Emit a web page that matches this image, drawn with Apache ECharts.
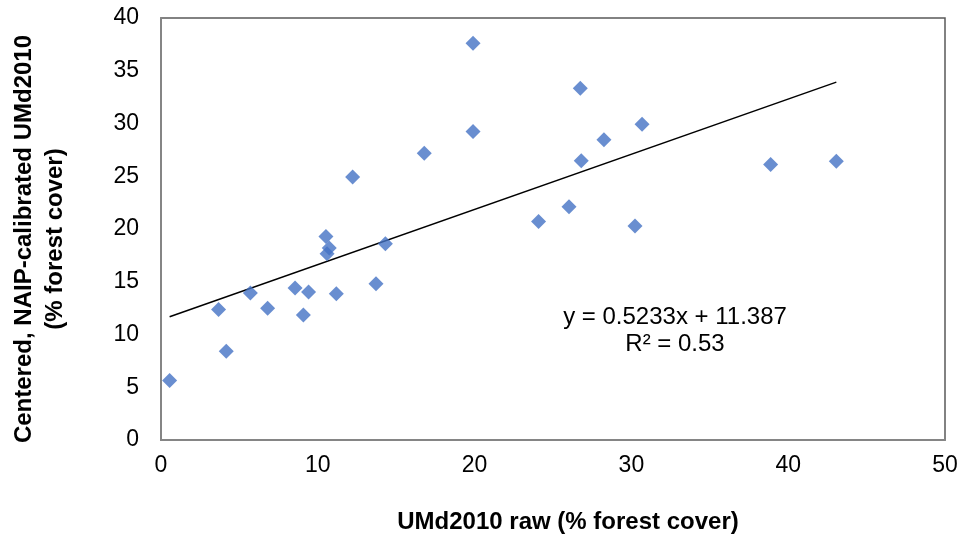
<!DOCTYPE html>
<html>
<head>
<meta charset="utf-8">
<title>UMd2010 raw vs NAIP-calibrated forest cover</title>
<script src="https://cdn.jsdelivr.net/npm/echarts@6/dist/echarts.min.js"></script>
<style>
  html, body { margin: 0; padding: 0; background: #fff; }
  #chart { width: 964px; height: 539px; }
</style>
</head>
<body>
<div id="chart"></div>
<script>
// UMd2010 raw forest cover (%) per sample unit
const rawCover = [
  0.55, 3.67, 4.16, 5.70, 6.80, 8.55, 9.08, 9.41, 10.52, 10.59,
  10.73, 11.18, 12.22, 13.71, 14.31, 16.79, 19.90, 19.90, 24.08, 26.02,
  26.74, 26.80, 28.25, 30.23, 30.68, 38.88, 43.07
];
// Centered, NAIP-calibrated UMd2010 forest cover (%) for the same units
const calibratedCover = [
  5.63, 12.36, 8.41, 13.94, 12.48, 14.41, 11.85, 14.03, 19.29, 17.66,
  18.20, 13.87, 24.92, 14.82, 18.60, 27.19, 37.60, 29.24, 20.71, 22.11,
  33.34, 26.46, 28.45, 20.28, 29.94, 26.11, 26.43
];
// Linear fit reported for the data
const fitSlope = [0.5233];
const fitIntercept = [11.387];
const fitR2 = [0.53];

const xTicks = [0, 10, 20, 30, 40, 50];
const yTicks = [0, 5, 10, 15, 20, 25, 30, 35, 40];

const points = rawCover.map((x, i) => [x, calibratedCover[i]]);
const xLo = Math.min(...rawCover);
const xHi = Math.max(...rawCover);
const fitLine = [xLo, xHi].map(x => [x, fitSlope[0] * x + fitIntercept[0]]);

const FONT = '"Liberation Sans", Arial, sans-serif';

const chart = echarts.init(document.getElementById('chart'), null, { renderer: 'canvas' });
chart.setOption({
  animation: false,
  backgroundColor: '#ffffff',
  grid: {
    left: 161, right: 19, top: 18, bottom: 98,
    show: true, borderColor: '#595959', borderWidth: 1.5, backgroundColor: 'transparent'
  },
  xAxis: {
    type: 'value',
    min: xTicks[0], max: xTicks[xTicks.length - 1], interval: 10,
    name: 'UMd2010 raw (% forest cover)',
    nameLocation: 'middle', nameGap: 70,
    nameTextStyle: { fontFamily: FONT, fontSize: 24, fontWeight: 'bold', color: '#000', padding: [0, 0, 0, 30] },
    axisLine: { show: true, lineStyle: { color: '#858585', width: 2 } },
    axisTick: { show: false },
    splitLine: { show: false },
    axisLabel: { fontFamily: FONT, fontSize: 23, color: '#000', margin: 14 }
  },
  yAxis: {
    type: 'value',
    min: yTicks[0], max: yTicks[yTicks.length - 1], interval: 5,
    name: 'Centered, NAIP-calibrated UMd2010\n(% forest cover)',
    nameLocation: 'middle', nameGap: 90,
    nameTextStyle: { fontFamily: FONT, fontSize: 24, fontWeight: 'bold', color: '#000', lineHeight: 31, padding: [0, 20, 0, 0] },
    axisLine: { show: true, lineStyle: { color: '#858585', width: 2 } },
    axisTick: { show: false },
    splitLine: { show: false },
    axisLabel: { fontFamily: FONT, fontSize: 23, color: '#000', margin: 22 }
  },
  series: [
    {
      type: 'line',
      data: fitLine,
      showSymbol: false,
      lineStyle: { color: '#000', width: 1.5 },
      silent: true,
      z: 2
    },
    {
      type: 'scatter',
      data: points,
      symbol: 'diamond',
      symbolSize: 15,
      itemStyle: { color: '#4472C4' },
      z: 3
    }
  ],
  graphic: [
    {
      type: 'text',
      x: 675, y: 304,
      style: {
        text: 'y = ' + fitSlope[0] + 'x + ' + fitIntercept[0] + '\nR² = ' + fitR2[0],
        fontFamily: FONT, fontSize: 24, lineHeight: 27,
        fill: '#000', align: 'center', verticalAlign: 'top'
      }
    }
  ]
});
</script>
</body>
</html>
